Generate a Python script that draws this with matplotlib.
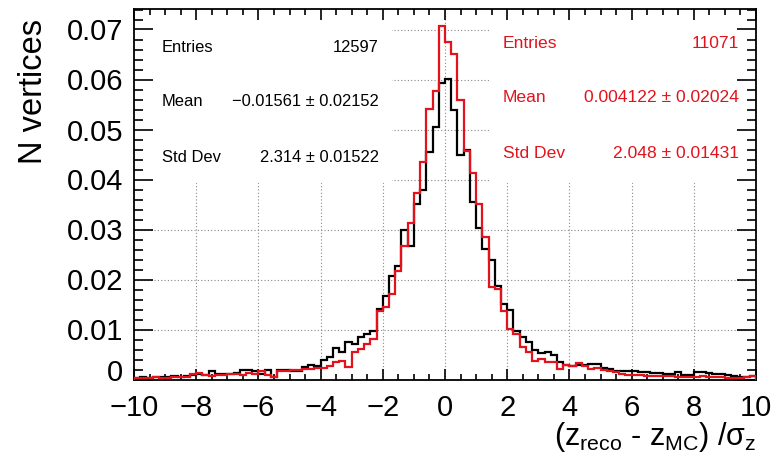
import matplotlib
matplotlib.use("Agg")
import matplotlib.pyplot as plt
from matplotlib.patches import Rectangle
from matplotlib.ticker import MultipleLocator, FuncFormatter
import numpy as np

plt.rcParams['font.family'] = ['Liberation Sans', 'DejaVu Sans']
plt.rcParams['mathtext.fontset'] = 'custom'
plt.rcParams['mathtext.rm'] = 'Liberation Sans'
plt.rcParams['mathtext.it'] = 'Liberation Sans'
plt.rcParams['mathtext.sf'] = 'Liberation Sans'

# histogram binning: 100 bins on [-10, 10]
x_lo, x_hi, n_bins = -10, 10, 100

# black histogram (bin contents, left to right)
black_vals = [
    0.0004, 0.0005, 0.0004, 0.0006, 0.0005, 0.0006, 0.0007, 0.0005, 0.0008, 0.0009,
    0.0012, 0.0010, 0.0017, 0.0012, 0.0011, 0.0012, 0.0014, 0.0019, 0.0020, 0.0018,
    0.0012, 0.0019, 0.0005, 0.0019, 0.0019, 0.0018, 0.0018, 0.0026, 0.0029, 0.0028,
    0.0040, 0.0046, 0.0063, 0.0056, 0.0075, 0.0072, 0.0085, 0.0092, 0.0097, 0.0142,
    0.0168, 0.0207, 0.0228, 0.0299, 0.0267, 0.0351, 0.0379, 0.0456, 0.0506, 0.0593,
    0.0601, 0.0540, 0.0449, 0.0459, 0.0355, 0.0304, 0.0262, 0.0240, 0.0188, 0.0152,
    0.0140, 0.0098, 0.0085, 0.0075, 0.0059, 0.0053, 0.0055, 0.0049, 0.0035, 0.0030,
    0.0027, 0.0030, 0.0029, 0.0031, 0.0031, 0.0024, 0.0022, 0.0017, 0.0018, 0.0018,
    0.0018, 0.0015, 0.0015, 0.0013, 0.0013, 0.0012, 0.0012, 0.0015, 0.0010, 0.0010,
    0.0015, 0.0015, 0.0014, 0.0011, 0.0012, 0.0010, 0.0008, 0.0006, 0.0005, 0.0007,
]

# red histogram
red_vals = [
    0.0003, 0.0004, 0.0003, 0.0005, 0.0004, 0.0003, 0.0005, 0.0006, 0.0005, 0.0012,
    0.0013, 0.0009, 0.0008, 0.0010, 0.0009, 0.0011, 0.0012, 0.0010, 0.0013, 0.0012,
    0.0018, 0.0010, 0.0005, 0.0018, 0.0018, 0.0020, 0.0020, 0.0022, 0.0022, 0.0023,
    0.0023, 0.0028, 0.0035, 0.0038, 0.0026, 0.0055, 0.0062, 0.0072, 0.0082, 0.0138,
    0.0146, 0.0172, 0.0217, 0.0267, 0.0314, 0.0373, 0.0436, 0.0542, 0.0578, 0.0707,
    0.0676, 0.0651, 0.0559, 0.0458, 0.0413, 0.0351, 0.0285, 0.0185, 0.0182, 0.0137,
    0.0102, 0.0092, 0.0065, 0.0055, 0.0038, 0.0041, 0.0035, 0.0035, 0.0022, 0.0029,
    0.0027, 0.0033, 0.0027, 0.0022, 0.0024, 0.0020, 0.0017, 0.0015, 0.0012, 0.0010,
    0.0010, 0.0010, 0.0008, 0.0008, 0.0008, 0.0007, 0.0008, 0.0006, 0.0006, 0.0006,
    0.0006, 0.0007, 0.0006, 0.0005, 0.0005, 0.0004, 0.0004, 0.0003, 0.0005, 0.0007,
]

black_stats = [("Entries", "12597"),
               ("Mean", "\u22120.01561 \u00b1 0.02152"),
               ("Std Dev", "2.314 \u00b1 0.01522")]
red_stats = [("Entries", "11071"),
             ("Mean", "0.004122 \u00b1 0.02024"),
             ("Std Dev", "2.048 \u00b1 0.01431")]

red = '#e3121c'
W, H = 774, 455

fig = plt.figure(figsize=(W / 100, H / 100), dpi=100)
ax = fig.add_axes([134 / W, 1 - 379.5 / H, 622 / W, 370.5 / H])

edges = np.linspace(x_lo, x_hi, n_bins + 1)
ax.set_xlim(x_lo, x_hi)
ax.set_ylim(0, 0.0741)

# dotted grid, drawn by hand so the stat boxes can hide it
for gx in range(-8, 10, 2):
    ax.axvline(gx, color='#888888', ls=(0, (1, 2)), lw=0.8, zorder=0.5)
for gy in np.arange(0.01, 0.075, 0.01):
    ax.axhline(gy, color='#888888', ls=(0, (1, 2)), lw=0.8, zorder=0.5)

# white stat boxes
ax.add_patch(Rectangle((-10, 0.0394), 8.3, 0.05, fc='white', ec='none', zorder=1))
ax.add_patch(Rectangle((1.45, 0.0394), 8.6, 0.05, fc='white', ec='none', zorder=1))

ax.stairs(black_vals, edges, color='black', lw=1.6, zorder=3)
ax.stairs(red_vals, edges, color=red, lw=1.6, zorder=3)

ax.xaxis.set_major_locator(MultipleLocator(2))
ax.xaxis.set_minor_locator(MultipleLocator(0.5))
ax.yaxis.set_major_locator(MultipleLocator(0.01))
ax.yaxis.set_minor_locator(MultipleLocator(0.002))
# the "0" label is placed by hand below, a bit higher than its tick
ax.yaxis.set_major_formatter(FuncFormatter(lambda v, p: "" if abs(v) < 1e-9 else f"{v:.2f}"))

ax.tick_params(which='both', direction='in', top=True, right=True, width=1.2,
               labelsize=21)
ax.tick_params(axis='x', which='major', length=8, pad=10.5)
ax.tick_params(axis='x', which='minor', length=4)
ax.tick_params(axis='y', which='major', length=13.5, pad=8)
ax.tick_params(axis='y', which='minor', length=6.5)
for s in ax.spines.values():
    s.set_linewidth(1.3)

ax.annotate("0", xy=(0, 0), xycoords='axes fraction', xytext=(-8, 4.5),
            textcoords='offset points', ha='right', va='center', fontsize=21)

fig.text(756 / W, 1 - 437 / H,
         r"$(\mathrm{z}_{\mathrm{reco}}\ \text{-}\ \mathrm{z}_{\mathrm{MC}})\ /\sigma_{\mathrm{z}}$",
         ha='right', va='center', fontsize=22)
fig.text(34 / W, 1 - 19 / H, "N vertices", rotation=90, ha='center', va='top',
         fontsize=23.5)

for i, (k, v) in enumerate(black_stats):
    y = 1 - (47 + 55 * i) / H
    fig.text(162 / W, y, k, ha='left', va='center', fontsize=11.9, color='black')
    fig.text(379 / W, y, v, ha='right', va='center', fontsize=11.9, color='black')
for i, (k, v) in enumerate(red_stats):
    y = 1 - (43 + 55 * i) / H
    fig.text(503 / W, y, k, ha='left', va='center', fontsize=12.6, color=red)
    fig.text(739 / W, y, v, ha='right', va='center', fontsize=12.6, color=red)

fig.savefig("out.png", dpi=100)
